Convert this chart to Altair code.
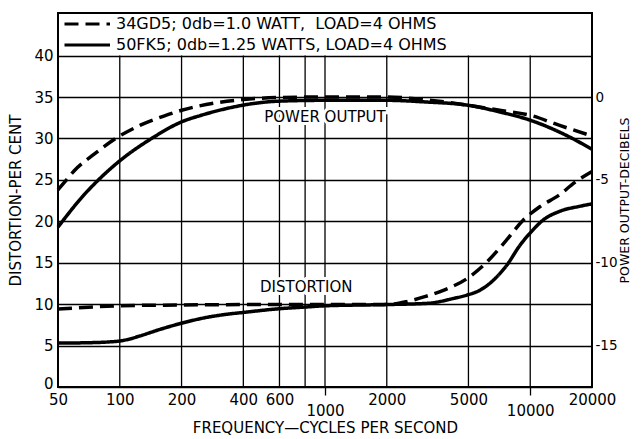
import altair as alt
import pandas as pd

FONT = "DejaVu Sans"

TUBE_A = "34GD5; 0db=1.0 WATT,\u00a0 LOAD=4 OHMS"
TUBE_B = "50FK5; 0db=1.25 WATTS, LOAD=4 OHMS"

# Distortion, per cent
dist_a_freq = [50, 100, 200, 500, 1000, 2000, 2500, 3060, 3800, 4930, 5930, 7410, 9260, 11130, 13900, 16500, 20000]
dist_a_pct = [9.4, 9.8, 9.9, 9.95, 9.95, 9.95, 10.3, 10.9, 11.7, 13.1, 14.7, 17.3, 20.15, 21.75, 23.2, 24.7, 26.0]
dist_b_freq = [50, 72, 90, 100, 112, 125, 157, 200, 265, 330, 400, 600, 800, 1000, 2000, 3160, 4250, 4930, 5710,
               6620, 7690, 8910, 9960, 11560, 13900, 17350, 20000]
dist_b_pct = [5.3, 5.35, 5.45, 5.55, 5.8, 6.15, 6.95, 7.7, 8.4, 8.77, 9.0, 9.45, 9.65, 9.8, 9.95, 10.1, 10.7, 11.1, 11.7,
              12.9, 14.7, 17.1, 18.55, 20.15, 21.2, 21.8, 22.1]

# Power output, decibels
pow_a_freq = [50, 55, 60, 75, 97, 126, 164, 200, 295, 400, 600, 1000, 2000, 3000, 5000, 7100, 10000, 13800, 20000]
pow_a_db = [-5.6, -5.0, -4.45, -3.45, -2.45, -1.7, -1.15, -0.8, -0.35, -0.15, -0.03, 0.0, 0.0, -0.15, -0.5,
            -0.8, -1.1, -1.7, -2.35]
pow_b_freq = [50, 67, 78, 100, 143, 200, 250, 330, 443, 600, 1000, 2000, 3100, 5000, 7100, 10000, 13800, 20000]
pow_b_db = [-7.85, -5.9, -5.05, -3.85, -2.5, -1.5, -1.1, -0.7, -0.4, -0.25, -0.2, -0.2, -0.3, -0.5, -0.9,
            -1.4, -2.1, -3.15]

x_ticks = [50, 100, 200, 400, 600, 800, 1000, 2000, 5000, 10000, 20000]
grid_freq = [100, 200, 400, 600, 800, 1000, 2000, 5000, 10000]
left_ticks = [0, 5, 10, 15, 20, 25, 30, 35, 40]
right_ticks = [0, -5, -10, -15]

note_text = ["POWER OUTPUT", "DISTORTION"]
note_freq = [1000, 810]
note_pct = [32.6, 12.1]

LEFT_MAX = 45.14
DB_AT_ZERO = -17.5
DB_AT_TOP = (LEFT_MAX - 35) / 2

dist_df = pd.concat([
    pd.DataFrame({"f": dist_a_freq, "v": dist_a_pct, "tube": TUBE_A}),
    pd.DataFrame({"f": dist_b_freq, "v": dist_b_pct, "tube": TUBE_B}),
])
pow_df = pd.concat([
    pd.DataFrame({"f": pow_a_freq, "db": pow_a_db, "tube": TUBE_A}),
    pd.DataFrame({"f": pow_b_freq, "db": pow_b_db, "tube": TUBE_B}),
])
grid_df = pd.DataFrame({"f": grid_freq, "lo": 0, "hi": 40})
note_df = pd.DataFrame({"f": note_freq, "v": note_pct, "t": note_text})

LBL = dict(labelFont=FONT, labelFontSize=15, labelColor="black",
           titleFont=FONT, titleFontSize=15, titleFontWeight="normal", titleColor="black")

xscale = alt.Scale(type="log", domain=[50, 20000], nice=False)
xaxis = alt.Axis(
    values=x_ticks,
    title="FREQUENCY\u2014CYCLES PER SECOND",
    grid=False, domain=False,
    ticks=True, tickSize=8, tickWidth=1.3, tickColor="black",
    tickOpacity={"condition": {"test": "datum.value == 1000 || datum.value == 10000", "value": 1}, "value": 0},
    labelExpr="datum.value == 800 ? '' : (datum.value == 1000 || datum.value == 10000 ? ['', format(datum.value, 'd')] : format(datum.value, 'd'))",
    labelPadding=-3, labelLineHeight=11, labelFlush=False, labelOverlap=False,
    titlePadding=2, **LBL,
)
yscale = alt.Scale(domain=[0, LEFT_MAX], nice=False, zero=False)
yaxis = alt.Axis(
    values=left_ticks, title="DISTORTION-PER CENT",
    grid=True, gridColor="black", gridWidth=1.3, gridOpacity=1,
    ticks=False, domain=False, labelPadding=5, titlePadding=10,
    labelOffset={"condition": {"test": "datum.value == 0", "value": -4}, "value": 0},
    **LBL,
)
rscale = alt.Scale(domain=[DB_AT_ZERO, DB_AT_TOP], nice=False, zero=False)
raxis = alt.Axis(
    orient="right", values=right_ticks, title="POWER OUTPUT-DECIBELS",
    grid=False, ticks=False, domain=False, labelPadding=3,
    labelExpr="datum.value == 0 ? '0' : '-' + format(-datum.value, 'd')",
    labelFont=FONT, labelFontSize=13.5, labelColor="black",
    titleFont=FONT, titleFontSize=12.5, titleFontWeight="normal", titleColor="black",
    titleAngle=270, titleBaseline="top", titlePadding=1,
)

dash = alt.StrokeDash(
    "tube:N",
    scale=alt.Scale(domain=[TUBE_A, TUBE_B], range=[[14, 7], [1, 0]]),
    legend=alt.Legend(
        title=None, orient="none", legendX=5, legendY=3,
        labelFontSize=16, labelFont=FONT, labelLimit=0, labelColor="black",
        symbolType="M-1,0H6", symbolSize=169, symbolStrokeWidth=3,
        symbolStrokeColor="black", symbolFillColor="transparent",
        rowPadding=5, labelOffset=37, padding=0,
    ),
)

rules = alt.Chart(grid_df).mark_rule(color="black", strokeWidth=1.3).encode(
    x=alt.X("f:Q", scale=xscale, axis=xaxis),
    y=alt.Y("lo:Q", scale=yscale, axis=yaxis),
    y2="hi:Q",
)
dist = alt.Chart(dist_df).mark_line(color="black", strokeWidth=3.5, interpolate="monotone").encode(
    x=alt.X("f:Q", scale=xscale, axis=xaxis),
    y=alt.Y("v:Q", scale=yscale, axis=yaxis),
    strokeDash=dash,
)
halo = alt.Chart(note_df).mark_text(
    font=FONT, fontSize=15, color="white", stroke="white", strokeWidth=6
).encode(
    x=alt.X("f:Q", scale=xscale, axis=xaxis),
    y=alt.Y("v:Q", scale=yscale, axis=yaxis),
    text="t:N",
)
notes = alt.Chart(note_df).mark_text(font=FONT, fontSize=15, color="black").encode(
    x=alt.X("f:Q", scale=xscale, axis=xaxis),
    y=alt.Y("v:Q", scale=yscale, axis=yaxis),
    text="t:N",
)
left = alt.layer(rules, dist, halo, notes)

power = alt.Chart(pow_df).mark_line(color="black", strokeWidth=3.5, interpolate="monotone").encode(
    x=alt.X("f:Q", scale=xscale, axis=xaxis),
    y=alt.Y("db:Q", scale=rscale, axis=raxis),
    strokeDash=dash,
)

chart = alt.layer(left, power).resolve_scale(y="independent").properties(
    width=534, height=374,
    autosize=alt.AutoSizeParams(type="none"),
    padding={"left": 50, "top": 5, "right": 41, "bottom": 52},
    background="white",
).configure_view(stroke="black", strokeWidth=2)

chart.save("out.html", embed_options={"renderer": "svg", "actions": False})
